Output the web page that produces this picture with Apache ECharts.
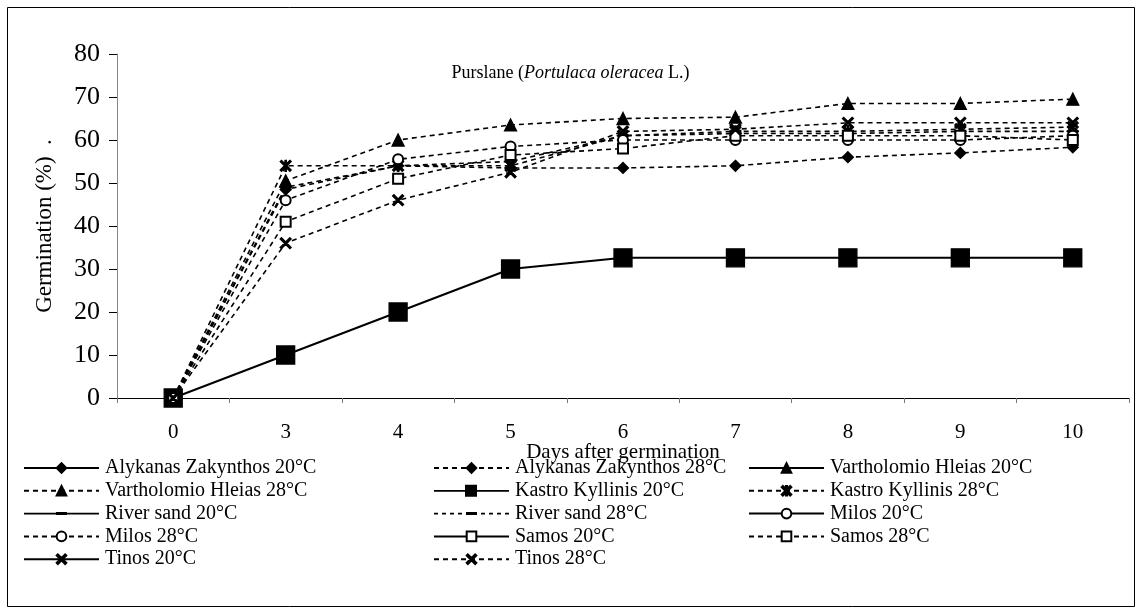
<!DOCTYPE html>
<html><head><meta charset="utf-8">
<script src="https://cdn.jsdelivr.net/npm/echarts@6/dist/echarts.min.js"></script>
<style>html,body{margin:0;padding:0;background:#fff}#c{width:1141px;height:614px}</style>
</head><body><div id="c"></div>
<script>
var days = ['0','3','4','5','6','7','8','9','10'];
var alykanas20 = [0,null,null,null,null,null,null,null,null];
var alykanas28 = [0,48.5,54,53.5,53.5,54,56,57,58.3];
var vartholomio20 = [0,null,null,null,null,null,null,null,null];
var vartholomio28 = [0,50.5,60,63.5,65,65.3,68.5,68.5,69.5];
var kastro20 = [0,10,20,30,32.6,32.6,32.6,32.6,32.6];
var kastro28 = [0,54,54,54,61,62,62,62.5,63];
var river20 = [0,null,null,null,null,null,null,null,null];
var river28 = [0,49,54,55,61,61.5,61.5,62,62];
var milos20 = [0,null,null,null,null,null,null,null,null];
var milos28 = [0,46,55.5,58.5,60,60,60,60,61];
var samos20 = [0,null,null,null,null,null,null,null,null];
var samos28 = [0,41,51,56.5,58,61,61,61,60];
var tinos20 = [0,null,null,null,null,null,null,null,null];
var tinos28 = [0,36,46,52.5,62,62.5,64,64,64];
var yTicks = [0,10,20,30,40,50,60,70,80];

var FONT = '"Liberation Serif","Times New Roman",serif';
var XSYM = 'path://M0,1.2L1.2,0L10,8.8L8.8,10Z M8.8,0L10,1.2L1.2,10L0,8.8Z';
var ASTER = 'path://M0,1.2L1.2,0L10,8.8L8.8,10Z M8.8,0L10,1.2L1.2,10L0,8.8Z M4.4,0L5.6,0L5.6,10L4.4,10Z';
var DASH = 'path://M0,0L10,0L10,3L0,3Z';
// legend icons (line + marker) for the entries whose marker ECharts would not draw to shape
var ICON_RIVER20 = 'path://M0,0.6L75,0.6L75,2.4L0,2.4Z M32,0L43,0L43,3L32,3Z';
var ICON_RIVER28 = 'path://M0,0.7L4,0.7L4,2.3L0,2.3Z M8,0.7L12,0.7L12,2.3L8,2.3Z M16,0.7L20,0.7L20,2.3L16,2.3Z M24,0.7L28,0.7L28,2.3L24,2.3Z M32,0L43,0L43,3L32,3Z M47,0.7L51,0.7L51,2.3L47,2.3Z M55,0.7L59,0.7L59,2.3L55,2.3Z M63,0.7L67,0.7L67,2.3L63,2.3Z M71,0.7L75,0.7L75,2.3L71,2.3Z';
var ICON_KASTRO20 = 'path://M0,5.1L75,5.1L75,6.9L0,6.9Z M31,0L43,0L43,12L31,12Z';

function mk(name, data, dashed, symbol, size) {
  return {
    name: name, type: 'line', data: data, symbol: symbol, symbolSize: size,
    showAllSymbol: true, connectNulls: false, symbolKeepAspect: true,
    lineStyle: {color: '#000', width: dashed ? 1.6 : 2, type: dashed ? [5,4] : 'solid'},
    itemStyle: {color: '#000', borderColor: '#000', borderWidth: 1.3},
    z: dashed ? 2 : 3
  };
}

var series = [
  mk('Alykanas Zakynthos 20°C', alykanas20, false, 'diamond', 11),
  mk('Alykanas Zakynthos 28°C', alykanas28, true, 'diamond', 11),
  mk('Vartholomio Hleias 20°C', vartholomio20, false, 'triangle', 12),
  mk('Vartholomio Hleias 28°C', vartholomio28, true, 'triangle', 12),
  mk('Kastro Kyllinis 20°C', kastro20, false, 'rect', 18),
  mk('Kastro Kyllinis 28°C', kastro28, true, ASTER, 11),
  mk('River sand 20°C', river20, false, DASH, [10,3]),
  mk('River sand 28°C', river28, true, DASH, [10,3]),
  mk('Milos 20°C', milos20, false, 'emptyCircle', 10),
  mk('Milos 28°C', milos28, true, 'emptyCircle', 10),
  mk('Samos 20°C', samos20, false, 'emptyRect', 10),
  mk('Samos 28°C', samos28, true, 'emptyRect', 10),
  mk('Tinos 20°C', tinos20, false, XSYM, 11),
  mk('Tinos 28°C', tinos28, true, XSYM, 11)
];

var iconFor = {
  'River sand 20°C': ICON_RIVER20,
  'River sand 28°C': ICON_RIVER28,
  'Kastro Kyllinis 20°C': ICON_KASTRO20
};

var legendBase = {
  orient: 'vertical', itemWidth: 75, itemHeight: 12, itemGap: 2.8,
  symbolKeepAspect: true,
  textStyle: {fontFamily: FONT, fontSize: 20, color: '#000', padding: [0,0,0,1]},
  top: 458, padding: 0, selectedMode: false
};
function lg(left, names) {
  var o = JSON.parse(JSON.stringify(legendBase));
  o.left = left;
  o.data = names.map(function (n) {
    return iconFor[n] ? {name: n, icon: iconFor[n], itemStyle: {color: '#000', borderWidth: 0}} : n;
  });
  return o;
}

var chart = echarts.init(document.getElementById('c'), null, {renderer: 'canvas'});
chart.setOption({
  animation: false,
  backgroundColor: '#fff',
  title: {
    text: '{n|Purslane (}{i|Portulaca oleracea}{n| L.)}',
    left: 'center', top: 59,
    textStyle: {fontWeight: 'normal', rich: {
      n: {fontFamily: FONT, fontSize: 18, color: '#000', fontWeight: 'normal'},
      i: {fontFamily: FONT, fontSize: 18, color: '#000', fontStyle: 'italic', fontWeight: 'normal'}
    }}
  },
  legend: [
    lg(23, ['Alykanas Zakynthos 20°C','Vartholomio Hleias 28°C','River sand 20°C','Milos 28°C','Tinos 20°C']),
    lg(433, ['Alykanas Zakynthos 28°C','Kastro Kyllinis 20°C','River sand 28°C','Samos 20°C','Tinos 28°C']),
    lg(748, ['Vartholomio Hleias 20°C','Kastro Kyllinis 28°C','Milos 20°C','Samos 28°C'])
  ],
  grid: {left: 117, right: 12, top: 54, bottom: 216, containLabel: false},
  xAxis: {
    type: 'category', data: days, boundaryGap: true,
    name: 'Days after germination', nameLocation: 'middle', nameGap: 44,
    nameMoveOverlap: false,
    nameTextStyle: {fontFamily: FONT, fontSize: 21, color: '#000'},
    axisLine: {lineStyle: {color: '#000', width: 1}},
    axisTick: {show: true, alignWithLabel: false, length: 5, inside: false, lineStyle: {color: '#777'}},
    axisLabel: {fontFamily: FONT, fontSize: 21, color: '#000', margin: 24},
    splitLine: {show: false}
  },
  yAxis: {
    type: 'value', min: 0, max: 80, interval: 10,
    name: 'Germination (%)  .', nameLocation: 'middle', nameGap: 61,
    nameMoveOverlap: false,
    nameTextStyle: {fontFamily: FONT, fontSize: 23, color: '#000'},
    axisLine: {show: true, lineStyle: {color: '#888', width: 1}},
    axisTick: {show: true, length: 8, lineStyle: {color: '#000'}},
    axisLabel: {fontFamily: FONT, fontSize: 26, color: '#000', margin: 17,
      formatter: function (v) { return yTicks.indexOf(v) >= 0 ? String(v) : ''; }},
    splitLine: {show: false}
  },
  graphic: [{
    type: 'rect', silent: true, z: -1,
    shape: {x: 7.5, y: 7.5, width: 1127, height: 599},
    style: {fill: 'none', stroke: '#000', lineWidth: 1}
  }],
  series: series
});
</script></body></html>
